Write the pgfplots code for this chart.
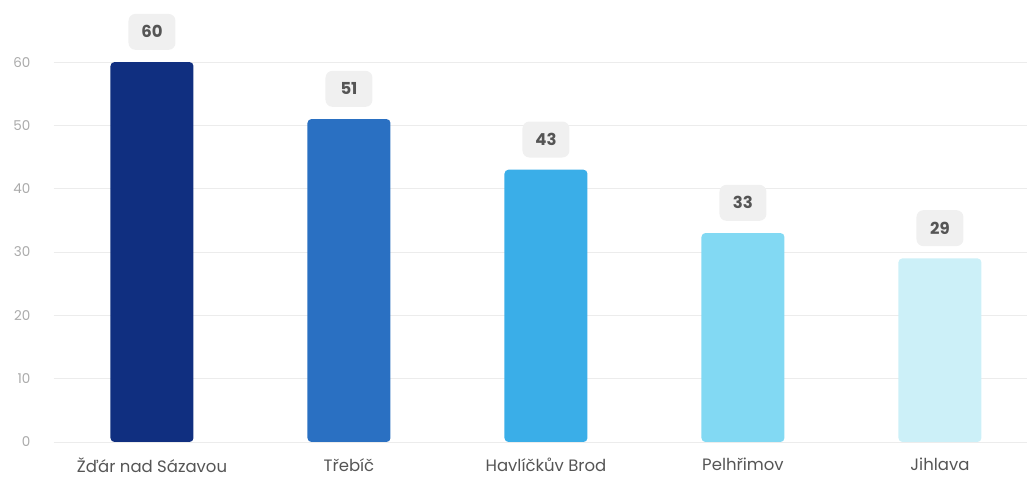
\documentclass[border=0pt]{standalone}
\usepackage{fontspec}
\setmainfont{Poppins}
\usepackage{pgfplots}
\pgfplotsset{compat=1.18}
\definecolor{c1}{HTML}{102F80}
\definecolor{c2}{HTML}{2A70C2}
\definecolor{c3}{HTML}{3AAEE8}
\definecolor{c4}{HTML}{82D9F3}
\definecolor{c5}{HTML}{CCF0F8}
\definecolor{gridc}{HTML}{ECECEC}
\definecolor{tickc}{HTML}{AAAAAA}
\definecolor{labc}{HTML}{555555}
\definecolor{boxc}{HTML}{F0F0F0}
\begin{document}
\begin{tikzpicture}
\useasboundingbox (-53.5bp,-37bp) rectangle (973.5bp,442bp);
\begin{axis}[
  at={(0,0)}, anchor=south west,
  scale only axis, width=973.5bp, height=442bp,
  xmin=-0.5, xmax=4.442, ymin=0, ymax=69.8,
  ybar, bar width=83bp, bar shift=0pt,
  axis line style={draw=none},
  major tick length=0pt,
  ytick={0,10,20,30,40,50,60},
  xtick={0,1,2,3,4},
  xticklabels={Žďár nad Sázavou, Třebíč, Havlíčkův Brod, Pelhřimov, Jihlava},
  ymajorgrids,
  grid style={color=gridc, line width=1bp},
  /pgf/number format/assume math mode=true,
  yticklabel style={anchor=east, inner sep=0pt, xshift=-23bp, text=tickc, font=\fontsize{13.5bp}{15bp}\selectfont},
  xticklabel style={anchor=north, inner sep=0pt, yshift=-16bp, text=labc, font=\fontsize{16.5bp}{18bp}\selectfont},
  nodes near coords,
  every node near coord/.style={anchor=south, yshift=12bp, fill=boxc, rounded corners=7bp, inner sep=0pt,
     minimum width=47bp, minimum height=36bp, text=labc, font=\fontsize{16.5bp}{18bp}\selectfont\bfseries},
  every axis plot/.append style={draw=none, rounded corners=4bp},
]
\addplot[fill=c1] coordinates {(0,60)};
\addplot[fill=c2] coordinates {(1,51)};
\addplot[fill=c3] coordinates {(2,43)};
\addplot[fill=c4] coordinates {(3,33)};
\addplot[fill=c5] coordinates {(4,29)};
\end{axis}
\end{tikzpicture}
\end{document}
